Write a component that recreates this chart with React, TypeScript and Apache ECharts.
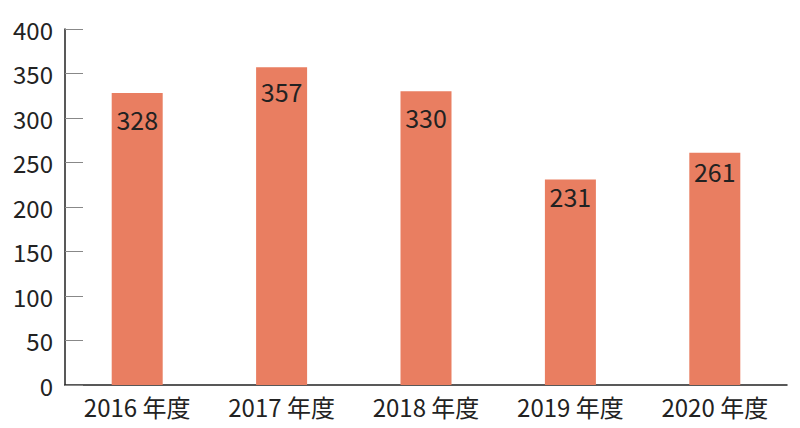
import React, { useEffect, useRef } from "react";
import * as echarts from "echarts";

const categories = ["2016 年度", "2017 年度", "2018 年度", "2019 年度", "2020 年度"];
const values = [328, 357, 330, 231, 261];
const yMin = 0;
const yMax = 400;
const yInterval = 50;
// label gap below each bar's top (style only)
const labelDistances = [13, 11, 13, 4, 6];

const FONT = "'Noto Sans CJK JP', 'Noto Sans', sans-serif";

export default function App() {
  const ref = useRef<HTMLDivElement>(null);
  useEffect(() => {
    if (!ref.current) return;
    const chart = echarts.init(ref.current, null, { renderer: "svg" });
    chart.setOption({
      animation: false,
      grid: { left: 65, right: 13, top: 29, bottom: 43, containLabel: false },
      xAxis: {
        type: "category",
        data: categories,
        axisLine: { lineStyle: { color: "#222", width: 1.5 } },
        axisTick: { inside: true, length: 8, lineStyle: { color: "#333" } },
        axisLabel: { color: "#222", fontSize: 24, fontFamily: FONT, margin: 9 },
      },
      yAxis: {
        type: "value",
        min: yMin,
        max: yMax,
        interval: yInterval,
        axisLine: { show: true, lineStyle: { color: "#222", width: 1.5 } },
        axisTick: { show: true, inside: true, length: 18, lineStyle: { color: "#888" } },
        splitLine: { show: false },
        axisLabel: { color: "#222", fontSize: 24, fontFamily: FONT, margin: 12 },
      },
      series: [
        {
          type: "bar",
          data: values.map((v, i) => ({
            value: v,
            label: { distance: labelDistances[i] },
          })),
          barWidth: 51,
          itemStyle: { color: "#E97E61" },
          label: {
            show: true,
            position: "insideTop",
            color: "#222",
            fontSize: 25,
            fontFamily: FONT,
          },
        },
      ],
    });
    return () => chart.dispose();
  }, []);
  return <div ref={ref} style={{ width: 800, height: 428, margin: -8 }} />;
}
